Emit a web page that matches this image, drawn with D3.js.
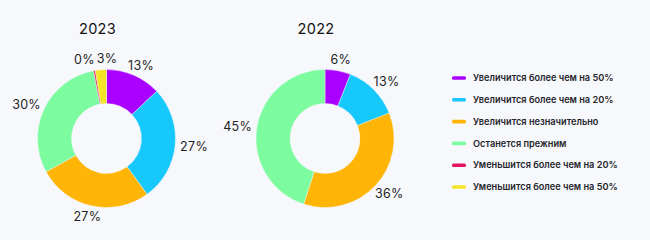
<!DOCTYPE html>
<html><head><meta charset="utf-8">
<script src="https://cdn.jsdelivr.net/npm/d3@7/dist/d3.min.js"></script>
<style>
html,body{margin:0;padding:0;background:#f7f8fc;}
svg{display:block;font-family:Inter,"Open Sans",sans-serif;}
</style></head>
<body><svg id="c" width="650" height="240"></svg>
<script>
const categories = ["Увеличится более чем на 50%","Увеличится более чем на 20%","Увеличится незначительно","Останется прежним","Уменьшится более чем на 20%","Уменьшится более чем на 50%"];
const colors = ["#aa00ff","#17c8fd","#ffb506","#7cfb9f","#e3115f","#f3e525"];
const years = ["2023","2022"];
const values2023 = [13, 27, 27, 30, 0.4, 2.6];
const values2022 = [6, 13, 36, 45, 0, 0];
const seriesValues = [values2023, values2022];

const svg = d3.select("#c");
const W = 650, H = 240;
svg.append("rect").attr("width",W).attr("height",H).attr("fill","#f7f8fc");

const R = 69, r = 35;
const centers = [{x:106.5,y:138.5},{x:325,y:138.5}];
const pie = d3.pie().sort(null).value(d=>d.v);
const arc = d3.arc().innerRadius(r).outerRadius(R);
const fmt = v => Math.round(v) + "%";

seriesValues.forEach((vals, i) => {
  const c = centers[i];
  const g = svg.append("g").attr("transform",`translate(${c.x},${c.y})`);
  const data = pie(vals.map((v,k)=>({v, k})));
  g.selectAll("path").data(data.filter(d=>d.data.v>0)).join("path")
    .attr("d",arc).attr("fill",d=>colors[d.data.k])
    .attr("stroke","#f7f8fc").attr("stroke-width",0.4);

  const texts = g.selectAll("text.lab").data(data.filter(d=>d.data.v>0)).join("text").attr("class","lab")
    .attr("dy","0.36em").attr("text-anchor","middle").attr("font-size",12.5)
    .attr("letter-spacing",0.3).attr("fill","#1f1f24")
    .text(d=>fmt(d.data.v));
  const labs = [];
  texts.each(function(d){
    const a = (d.startAngle+d.endAngle)/2;
    const hw = this.getComputedTextLength()/2, hh = 6;
    const s = Math.sin(a), co = Math.cos(a);
    labs.push({node:this, x: s*(R+5) + s*hw, y: -co*(R+5) - co*hh, hw, hh});
  });
  for (let p=0;p<5;p++){
    for (let a=0;a<labs.length;a++) for (let b=a+1;b<labs.length;b++){
      const A=labs[a], B=labs[b];
      const need = A.hw+B.hw+2;
      if (Math.abs(A.y-B.y) < A.hh+B.hh && Math.abs(A.x-B.x) < need){
        const m=(A.x+B.x)/2, dir = A.x<=B.x?1:-1;
        A.x = m - dir*need/2; B.x = m + dir*need/2;
      }
    }
  }
  labs.forEach(l=>d3.select(l.node).attr("x",l.x).attr("y",l.y));

  svg.append("text").attr("x",c.x-9).attr("y",33.5).attr("text-anchor","middle")
    .attr("font-size",14.5).attr("font-weight",400).attr("letter-spacing",0.3).attr("fill","#111")
    .text(years[i]);
});

// legend
const lg = svg.append("g").attr("transform","translate(452,78)");
const rows = lg.selectAll("g").data(categories).join("g")
  .attr("transform",(d,i)=>`translate(0,${i*21.8})`);
rows.append("rect").attr("x",0).attr("y",-1.8).attr("width",14).attr("height",3.6).attr("rx",1.5)
  .attr("fill",(d,i)=>colors[i]);
rows.append("text").attr("x",21).attr("y",0).attr("dy","0.35em")
  .attr("font-size",9.2).attr("font-weight",600).attr("fill","#26262c").text(d=>d);
</script></body></html>
